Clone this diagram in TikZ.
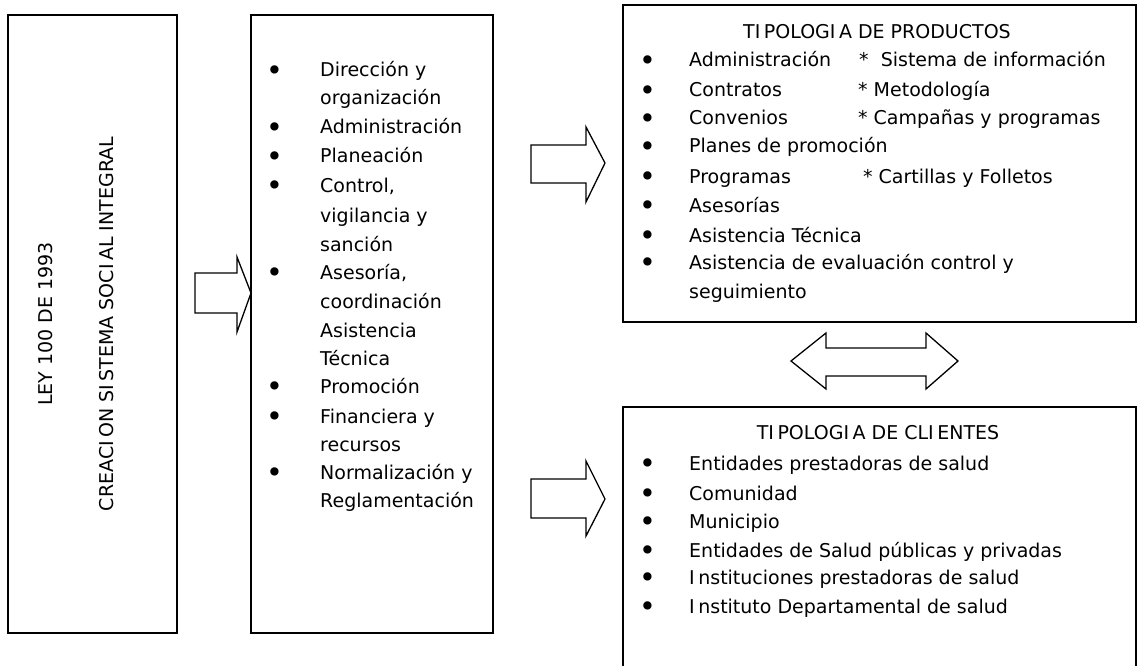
\documentclass[tikz,border=0pt]{standalone}
\usepackage{graphicx}
\usepackage{fontspec}
\setmainfont{DejaVu Sans}
\newcommand\Ik{I\kern3.5pt}
\newcommand\bigbul{\raisebox{-3.4pt}{\scalebox{1.5}{•}}}
\begin{document}
\begin{tikzpicture}[x=1pt,y=-1pt,
  box/.style={draw, line width=1.6pt, inner sep=0pt},
  blk/.style={draw, line width=1.3pt, line join=miter},
  fnt/.style={inner sep=0pt, font=\fontsize{19}{23}\selectfont},
  txt/.style={fnt, anchor=base west},
  bul/.style={fnt, anchor=base},
  ttl/.style={fnt, anchor=base}]
\useasboundingbox (0,0) rectangle (1138,666);

% boxes
\node[box, minimum width=169pt, minimum height=618pt] (ley) at (92.5,324) {};
\node[box, minimum width=242pt, minimum height=618pt] (fun) at (372,324) {};
\node[box, minimum width=513pt, minimum height=317pt] (prod) at (879.5,163.5) {};
\coordinate (cliA) at (623,672);
\coordinate (cliB) at (1136,672);
\draw[box] (cliA) |- (1136,407) -- (cliB);

% rotated texts
\node[fnt, rotate=90, anchor=base] (leyt) at (52,324) {LEY 100 DE 1993};
\node[fnt, rotate=90, anchor=base] (creat) at (113,324) {CREAC\Ik ON S\Ik STEMA SOC\Ik AL INTEGRAL};

% block arrows
\draw[blk] (195,273) -- (237,273) -- (237,257) -- (251,293) -- (237,332) -- (237,313) -- (195,313) -- cycle;
\draw[blk] (531,145) -- (586,145) -- (586,127) -- (605,163) -- (586,202) -- (586,183) -- (531,183) -- cycle;
\draw[blk] (531,479) -- (586,479) -- (586,461) -- (605,499) -- (586,536) -- (586,518) -- (531,518) -- cycle;
\draw[blk] (791,361) -- (826,333) -- (826,348) -- (926,348) -- (926,333) -- (958,361) -- (926,389) -- (926,376) -- (826,376) -- (826,389) -- cycle;

% middle box list
\node[bul] (mb1) at (275,77) {\bigbul};
\node[txt] (m1) at (320,77) {Dirección y};
\node[txt] (m2) at (320,105) {organización};
\node[bul] (mb3) at (275,134) {\bigbul};
\node[txt] (m3) at (320,134) {Administración};
\node[bul] (mb4) at (275,163) {\bigbul};
\node[txt] (m4) at (320,163) {Planeación};
\node[bul] (mb5) at (275,192) {\bigbul};
\node[txt] (m5) at (320,192) {Control,};
\node[txt] (m6) at (320,222) {vigilancia y};
\node[txt] (m7) at (320,251) {sanción};
\node[bul] (mb8) at (275,279) {\bigbul};
\node[txt] (m8) at (320,279) {Asesoría,};
\node[txt] (m9) at (320,308) {coordinación};
\node[txt] (m10) at (320,337) {Asistencia};
\node[txt] (m11) at (320,365) {Técnica};
\node[bul] (mb12) at (275,393) {\bigbul};
\node[txt] (m12) at (320,393) {Promoción};
\node[bul] (mb13) at (275,423) {\bigbul};
\node[txt] (m13) at (320,423) {Financiera y};
\node[txt] (m14) at (320,451) {recursos};
\node[bul] (mb15) at (275,479) {\bigbul};
\node[txt] (m15) at (320,479) {Normalización y};
\node[txt] (m16) at (320,507) {Reglamentación};

% productos
\node[ttl] (pt) at (877,39) {T\Ik POLOG\Ik A DE PRODUCTOS};
\node[bul] (pb1) at (648,67) {\bigbul};
\node[txt] (p1) at (689,67) {Administración};
\node[txt] (q1) at (859,67) {*\ \ Sistema de información};
\node[bul] (pb2) at (648,97) {\bigbul};
\node[txt] (p2) at (689,97) {Contratos};
\node[txt] (q2) at (858,97) {* Metodología};
\node[bul] (pb3) at (648,125) {\bigbul};
\node[txt] (p3) at (689,125) {Convenios};
\node[txt] (q3) at (858,125) {* Campañas y programas};
\node[bul] (pb4) at (648,153) {\bigbul};
\node[txt] (p4) at (689,153) {Planes de promoción};
\node[bul] (pb5) at (648,183) {\bigbul};
\node[txt] (p5) at (689,183) {Programas};
\node[txt] (q5) at (863,183) {* Cartillas y Folletos};
\node[bul] (pb6) at (648,212) {\bigbul};
\node[txt] (p6) at (689,212) {Asesorías};
\node[bul] (pb7) at (648,242) {\bigbul};
\node[txt] (p7) at (689,242) {Asistencia Técnica};
\node[bul] (pb8) at (648,269) {\bigbul};
\node[txt] (p8) at (689,269) {Asistencia de evaluación control y};
\node[txt] (p9) at (689,298) {seguimiento};

% clientes
\node[ttl] (ct) at (878,439) {T\Ik POLOG\Ik A DE CL\Ik ENTES};
\node[bul] (cb1) at (648,470) {\bigbul};
\node[txt] (c1) at (689,470) {Entidades prestadoras de salud};
\node[bul] (cb2) at (648,500) {\bigbul};
\node[txt] (c2) at (689,500) {Comunidad};
\node[bul] (cb3) at (648,528) {\bigbul};
\node[txt] (c3) at (689,528) {Municipio};
\node[bul] (cb4) at (648,557) {\bigbul};
\node[txt] (c4) at (689,557) {Entidades de Salud públicas y privadas};
\node[bul] (cb5) at (648,584) {\bigbul};
\node[txt] (c5) at (689,584) {\Ik nstituciones prestadoras de salud};
\node[bul] (cb6) at (648,613) {\bigbul};
\node[txt] (c6) at (689,613) {\Ik nstituto Departamental de salud};
\end{tikzpicture}
\end{document}
